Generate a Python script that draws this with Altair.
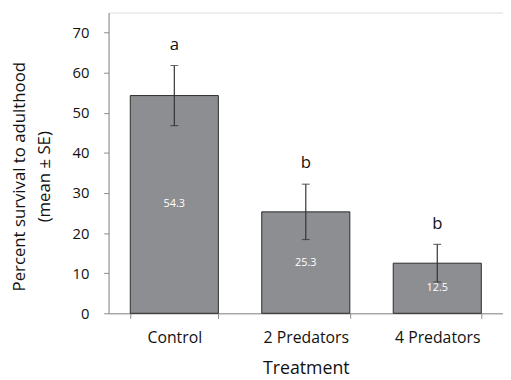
import altair as alt
import pandas as pd

treatments = ["Control", "2 Predators", "4 Predators"]
means = [54.3, 25.3, 12.5]
ses = [7.5, 6.9, 4.7]
letters = ["a", "b", "b"]

df = pd.DataFrame({
    "Treatment": treatments,
    "mean": means,
    "se": ses,
    "letter": letters,
})
df["lo"] = df["mean"] - df["se"]
df["hi"] = df["mean"] + df["se"]
df["mid"] = df["mean"] / 2
df["label"] = df["mean"].map(lambda v: f"{v:.1f}")

FONT = "Open Sans"
YTITLE = ["Percent survival to adulthood", "(mean ± SE)"]
TXT = "#111111"

x = alt.X("Treatment:N", sort=treatments,
          scale=alt.Scale(paddingInner=0.33, paddingOuter=0.165),
          axis=alt.Axis(title="Treatment", labelAngle=0, tickBand="extent",
                        domainColor="#8a8a8a", tickColor="#8a8a8a", tickSize=5,
                        labelFontSize=16, labelColor=TXT, labelPadding=12,
                        titleFontSize=18, titleFontWeight="normal", titleColor=TXT,
                        titlePadding=14, labelFont=FONT, titleFont=FONT))
xs = alt.X("Treatment:N", sort=treatments, title="Treatment")

yscale = alt.Scale(domain=[0, 75], nice=False)

base = alt.Chart(df)

bars = base.mark_bar(color="#8d8e91", stroke="#2a2a2a", strokeWidth=1).encode(
    x=x,
    y=alt.Y("mean:Q", scale=yscale, title=YTITLE,
            axis=alt.Axis(values=[0, 10, 20, 30, 40, 50, 60, 70], grid=False,
                          domainColor="#8a8a8a", tickColor="#8a8a8a", tickSize=5,
                          labelFontSize=15, labelColor=TXT, labelPadding=15,
                          titleFontSize=17, titleFontWeight="normal", titleColor=TXT,
                          titleLineHeight=25, titlePadding=19, titleY=166,
                          labelFont=FONT, titleFont=FONT)),
)

err = base.mark_errorbar(ticks=alt.MarkConfig(size=8), color="#333", thickness=1.2).encode(
    x=xs,
    y=alt.Y("lo:Q", scale=yscale, title=YTITLE),
    y2="hi:Q",
)

letter_txt = base.mark_text(fontSize=17, font=FONT, color=TXT, baseline="bottom", dy=-12).encode(
    x=xs,
    y=alt.Y("hi:Q", scale=yscale, title=YTITLE),
    text="letter:N",
)

val_txt = base.mark_text(fontSize=11, font=FONT, color="white", baseline="middle").encode(
    x=xs,
    y=alt.Y("mid:Q", scale=yscale, title=YTITLE),
    text="label:N",
)

chart = alt.layer(bars, err, letter_txt, val_txt).properties(
    width=400, height=305,
    autosize=alt.AutoSizeParams(type="none"),
    padding={"left": 102, "top": 2, "right": 0, "bottom": 65},
).configure_view(stroke=None).configure(background="white")

chart.save("out.html", embed_options={"renderer": "svg", "actions": False})
